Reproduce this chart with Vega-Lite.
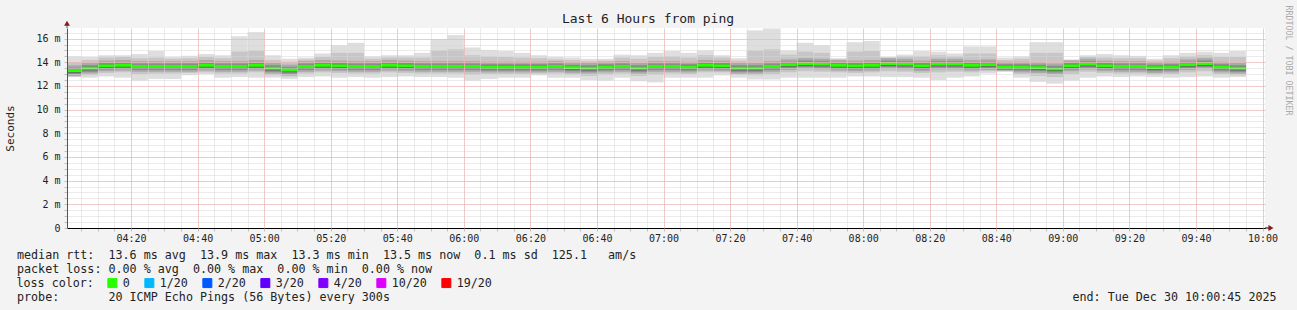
{
  "$schema": "https://vega.github.io/schema/vega-lite/v6.json",
  "width": 1198,
  "height": 200,
  "autosize": {"type": "none"},
  "padding": {"left": 67, "top": 28, "right": 32, "bottom": 82},
  "background": "#f3f3f3",
  "config": {
    "font": "DejaVu Sans Mono",
    "view": {"fill": "white", "stroke": null}
  },
  "title": {
    "text": "Last 6 Hours from ping",
    "font": "DejaVu Sans Mono",
    "fontSize": 13,
    "fontWeight": "normal",
    "color": "#222222",
    "anchor": "middle",
    "frame": "group",
    "dx": -18,
    "offset": -21
  },
  "datasets": {
    "bins": [
      {"t":"2025-12-30T04:00:00","t2":"2025-12-30T04:05:00","mn":12.75,"mx":14.5,"l2":12.8,"h2":14.0,"l3":12.85,"h3":13.75,"l4":13.0,"h4":13.55,"l5":13.12,"h5":13.42,"md":13.3,"loss":"0"},
      {"t":"2025-12-30T04:05:00","t2":"2025-12-30T04:10:00","mn":12.7,"mx":14.45,"l2":12.9,"h2":14.2,"l3":13.05,"h3":13.95,"l4":13.2,"h4":13.75,"l5":13.32,"h5":13.62,"md":13.5,"loss":"0"},
      {"t":"2025-12-30T04:10:00","t2":"2025-12-30T04:15:00","mn":12.8,"mx":14.6,"l2":13.1,"h2":14.4,"l3":13.25,"h3":14.15,"l4":13.4,"h4":13.95,"l5":13.52,"h5":13.82,"md":13.7,"loss":"0"},
      {"t":"2025-12-30T04:15:00","t2":"2025-12-30T04:20:00","mn":12.7,"mx":14.6,"l2":13.15,"h2":14.45,"l3":13.3,"h3":14.2,"l4":13.45,"h4":14.0,"l5":13.57,"h5":13.87,"md":13.75,"loss":"0"},
      {"t":"2025-12-30T04:20:00","t2":"2025-12-30T04:25:00","mn":12.45,"mx":14.7,"l2":13.0,"h2":14.35,"l3":13.2,"h3":14.1,"l4":13.35,"h4":13.9,"l5":13.47,"h5":13.77,"md":13.65,"loss":"0"},
      {"t":"2025-12-30T04:25:00","t2":"2025-12-30T04:30:00","mn":12.6,"mx":14.95,"l2":13.05,"h2":14.4,"l3":13.2,"h3":14.1,"l4":13.35,"h4":13.9,"l5":13.47,"h5":13.77,"md":13.65,"loss":"0"},
      {"t":"2025-12-30T04:30:00","t2":"2025-12-30T04:35:00","mn":12.6,"mx":14.45,"l2":13.05,"h2":14.3,"l3":13.2,"h3":14.1,"l4":13.35,"h4":13.9,"l5":13.47,"h5":13.77,"md":13.65,"loss":"0"},
      {"t":"2025-12-30T04:35:00","t2":"2025-12-30T04:40:00","mn":12.9,"mx":14.55,"l2":13.1,"h2":14.35,"l3":13.2,"h3":14.1,"l4":13.35,"h4":13.9,"l5":13.47,"h5":13.77,"md":13.65,"loss":"0"},
      {"t":"2025-12-30T04:40:00","t2":"2025-12-30T04:45:00","mn":13.0,"mx":14.7,"l2":13.15,"h2":14.45,"l3":13.3,"h3":14.2,"l4":13.45,"h4":14.0,"l5":13.57,"h5":13.87,"md":13.75,"loss":"0"},
      {"t":"2025-12-30T04:45:00","t2":"2025-12-30T04:50:00","mn":12.7,"mx":14.6,"l2":13.05,"h2":14.35,"l3":13.2,"h3":14.1,"l4":13.35,"h4":13.9,"l5":13.47,"h5":13.77,"md":13.65,"loss":"0"},
      {"t":"2025-12-30T04:50:00","t2":"2025-12-30T04:55:00","mn":12.75,"mx":16.2,"l2":13.05,"h2":14.9,"l3":13.2,"h3":14.1,"l4":13.35,"h4":13.9,"l5":13.47,"h5":13.77,"md":13.65,"loss":"0"},
      {"t":"2025-12-30T04:55:00","t2":"2025-12-30T05:00:00","mn":12.7,"mx":16.55,"l2":13.15,"h2":15.0,"l3":13.3,"h3":14.2,"l4":13.45,"h4":14.0,"l5":13.57,"h5":13.87,"md":13.75,"loss":"0"},
      {"t":"2025-12-30T05:00:00","t2":"2025-12-30T05:05:00","mn":12.7,"mx":14.6,"l2":12.9,"h2":14.2,"l3":13.05,"h3":13.95,"l4":13.2,"h4":13.75,"l5":13.32,"h5":13.62,"md":13.5,"loss":"0"},
      {"t":"2025-12-30T05:05:00","t2":"2025-12-30T05:10:00","mn":12.6,"mx":14.3,"l2":12.8,"h2":14.05,"l3":12.9,"h3":13.8,"l4":13.05,"h4":13.6,"l5":13.17,"h5":13.47,"md":13.35,"loss":"0"},
      {"t":"2025-12-30T05:10:00","t2":"2025-12-30T05:15:00","mn":12.75,"mx":14.4,"l2":13.05,"h2":14.25,"l3":13.2,"h3":14.1,"l4":13.35,"h4":13.9,"l5":13.47,"h5":13.77,"md":13.65,"loss":"0"},
      {"t":"2025-12-30T05:15:00","t2":"2025-12-30T05:20:00","mn":12.8,"mx":14.75,"l2":13.15,"h2":14.45,"l3":13.3,"h3":14.2,"l4":13.45,"h4":14.0,"l5":13.57,"h5":13.87,"md":13.75,"loss":"0"},
      {"t":"2025-12-30T05:20:00","t2":"2025-12-30T05:25:00","mn":12.7,"mx":15.45,"l2":13.1,"h2":14.8,"l3":13.25,"h3":14.15,"l4":13.4,"h4":13.95,"l5":13.52,"h5":13.82,"md":13.7,"loss":"0"},
      {"t":"2025-12-30T05:25:00","t2":"2025-12-30T05:30:00","mn":12.75,"mx":15.65,"l2":13.05,"h2":14.8,"l3":13.2,"h3":14.1,"l4":13.35,"h4":13.9,"l5":13.47,"h5":13.77,"md":13.65,"loss":"0"},
      {"t":"2025-12-30T05:30:00","t2":"2025-12-30T05:35:00","mn":12.7,"mx":14.5,"l2":13.05,"h2":14.3,"l3":13.2,"h3":14.1,"l4":13.35,"h4":13.9,"l5":13.47,"h5":13.77,"md":13.65,"loss":"0"},
      {"t":"2025-12-30T05:35:00","t2":"2025-12-30T05:40:00","mn":12.75,"mx":14.6,"l2":13.15,"h2":14.4,"l3":13.3,"h3":14.2,"l4":13.45,"h4":14.0,"l5":13.57,"h5":13.87,"md":13.75,"loss":"0"},
      {"t":"2025-12-30T05:40:00","t2":"2025-12-30T05:45:00","mn":12.8,"mx":14.6,"l2":13.1,"h2":14.4,"l3":13.25,"h3":14.15,"l4":13.4,"h4":13.95,"l5":13.52,"h5":13.82,"md":13.7,"loss":"0"},
      {"t":"2025-12-30T05:45:00","t2":"2025-12-30T05:50:00","mn":12.75,"mx":14.8,"l2":13.05,"h2":14.4,"l3":13.2,"h3":14.1,"l4":13.35,"h4":13.9,"l5":13.47,"h5":13.77,"md":13.65,"loss":"0"},
      {"t":"2025-12-30T05:50:00","t2":"2025-12-30T05:55:00","mn":12.75,"mx":15.95,"l2":13.05,"h2":15.0,"l3":13.2,"h3":14.1,"l4":13.35,"h4":13.9,"l5":13.47,"h5":13.77,"md":13.65,"loss":"0"},
      {"t":"2025-12-30T05:55:00","t2":"2025-12-30T06:00:00","mn":12.7,"mx":16.3,"l2":13.05,"h2":15.1,"l3":13.2,"h3":14.1,"l4":13.35,"h4":13.9,"l5":13.47,"h5":13.77,"md":13.65,"loss":"0"},
      {"t":"2025-12-30T06:00:00","t2":"2025-12-30T06:05:00","mn":12.45,"mx":15.25,"l2":12.95,"h2":14.6,"l3":13.2,"h3":14.1,"l4":13.35,"h4":13.9,"l5":13.47,"h5":13.77,"md":13.65,"loss":"0"},
      {"t":"2025-12-30T06:05:00","t2":"2025-12-30T06:10:00","mn":12.6,"mx":15.05,"l2":13.0,"h2":14.5,"l3":13.15,"h3":14.05,"l4":13.3,"h4":13.85,"l5":13.42,"h5":13.72,"md":13.6,"loss":"0"},
      {"t":"2025-12-30T06:10:00","t2":"2025-12-30T06:15:00","mn":12.7,"mx":14.95,"l2":13.0,"h2":14.45,"l3":13.15,"h3":14.05,"l4":13.3,"h4":13.85,"l5":13.42,"h5":13.72,"md":13.6,"loss":"0"},
      {"t":"2025-12-30T06:15:00","t2":"2025-12-30T06:20:00","mn":12.7,"mx":14.8,"l2":13.0,"h2":14.4,"l3":13.15,"h3":14.05,"l4":13.3,"h4":13.85,"l5":13.42,"h5":13.72,"md":13.6,"loss":"0"},
      {"t":"2025-12-30T06:20:00","t2":"2025-12-30T06:25:00","mn":12.9,"mx":14.6,"l2":13.05,"h2":14.35,"l3":13.15,"h3":14.05,"l4":13.3,"h4":13.85,"l5":13.42,"h5":13.72,"md":13.6,"loss":"0"},
      {"t":"2025-12-30T06:25:00","t2":"2025-12-30T06:30:00","mn":12.7,"mx":14.45,"l2":13.05,"h2":14.25,"l3":13.2,"h3":14.1,"l4":13.35,"h4":13.9,"l5":13.47,"h5":13.77,"md":13.65,"loss":"0"},
      {"t":"2025-12-30T06:30:00","t2":"2025-12-30T06:35:00","mn":12.7,"mx":14.4,"l2":12.95,"h2":14.2,"l3":13.1,"h3":14.0,"l4":13.25,"h4":13.8,"l5":13.37,"h5":13.67,"md":13.55,"loss":"0"},
      {"t":"2025-12-30T06:35:00","t2":"2025-12-30T06:40:00","mn":12.5,"mx":14.3,"l2":12.85,"h2":14.1,"l3":13.05,"h3":13.95,"l4":13.2,"h4":13.75,"l5":13.32,"h5":13.62,"md":13.5,"loss":"0"},
      {"t":"2025-12-30T06:40:00","t2":"2025-12-30T06:45:00","mn":12.45,"mx":14.3,"l2":12.95,"h2":14.15,"l3":13.15,"h3":14.05,"l4":13.3,"h4":13.85,"l5":13.42,"h5":13.72,"md":13.6,"loss":"0"},
      {"t":"2025-12-30T06:45:00","t2":"2025-12-30T06:50:00","mn":12.7,"mx":14.65,"l2":13.05,"h2":14.4,"l3":13.2,"h3":14.1,"l4":13.35,"h4":13.9,"l5":13.47,"h5":13.77,"md":13.65,"loss":"0"},
      {"t":"2025-12-30T06:50:00","t2":"2025-12-30T06:55:00","mn":12.4,"mx":14.6,"l2":12.85,"h2":14.3,"l3":13.05,"h3":13.95,"l4":13.2,"h4":13.75,"l5":13.32,"h5":13.62,"md":13.5,"loss":"0"},
      {"t":"2025-12-30T06:55:00","t2":"2025-12-30T07:00:00","mn":12.3,"mx":14.8,"l2":12.95,"h2":14.45,"l3":13.2,"h3":14.1,"l4":13.35,"h4":13.9,"l5":13.47,"h5":13.77,"md":13.65,"loss":"0"},
      {"t":"2025-12-30T07:00:00","t2":"2025-12-30T07:05:00","mn":12.7,"mx":14.95,"l2":13.05,"h2":14.5,"l3":13.2,"h3":14.1,"l4":13.35,"h4":13.9,"l5":13.47,"h5":13.77,"md":13.65,"loss":"0"},
      {"t":"2025-12-30T07:05:00","t2":"2025-12-30T07:10:00","mn":12.7,"mx":14.8,"l2":13.0,"h2":14.4,"l3":13.15,"h3":14.05,"l4":13.3,"h4":13.85,"l5":13.42,"h5":13.72,"md":13.6,"loss":"0"},
      {"t":"2025-12-30T07:10:00","t2":"2025-12-30T07:15:00","mn":12.7,"mx":15.0,"l2":13.15,"h2":14.6,"l3":13.3,"h3":14.2,"l4":13.45,"h4":14.0,"l5":13.57,"h5":13.87,"md":13.75,"loss":"0"},
      {"t":"2025-12-30T07:15:00","t2":"2025-12-30T07:20:00","mn":12.9,"mx":14.6,"l2":13.15,"h2":14.4,"l3":13.25,"h3":14.15,"l4":13.4,"h4":13.95,"l5":13.52,"h5":13.82,"md":13.7,"loss":"0"},
      {"t":"2025-12-30T07:20:00","t2":"2025-12-30T07:25:00","mn":12.7,"mx":14.35,"l2":12.95,"h2":14.15,"l3":13.05,"h3":13.95,"l4":13.2,"h4":13.75,"l5":13.32,"h5":13.62,"md":13.5,"loss":"0"},
      {"t":"2025-12-30T07:25:00","t2":"2025-12-30T07:30:00","mn":12.55,"mx":16.7,"l2":12.9,"h2":15.0,"l3":13.05,"h3":13.95,"l4":13.2,"h4":13.75,"l5":13.32,"h5":13.62,"md":13.5,"loss":"0"},
      {"t":"2025-12-30T07:30:00","t2":"2025-12-30T07:35:00","mn":12.55,"mx":16.85,"l2":13.0,"h2":15.1,"l3":13.2,"h3":14.1,"l4":13.35,"h4":13.9,"l5":13.47,"h5":13.77,"md":13.65,"loss":"0"},
      {"t":"2025-12-30T07:35:00","t2":"2025-12-30T07:40:00","mn":12.7,"mx":15.0,"l2":13.15,"h2":14.65,"l3":13.35,"h3":14.25,"l4":13.5,"h4":14.05,"l5":13.62,"h5":13.92,"md":13.8,"loss":"0"},
      {"t":"2025-12-30T07:40:00","t2":"2025-12-30T07:45:00","mn":12.7,"mx":15.65,"l2":13.25,"h2":14.9,"l3":13.45,"h3":14.35,"l4":13.6,"h4":14.15,"l5":13.72,"h5":14.02,"md":13.9,"loss":"0"},
      {"t":"2025-12-30T07:45:00","t2":"2025-12-30T07:50:00","mn":12.7,"mx":15.45,"l2":13.2,"h2":14.8,"l3":13.4,"h3":14.3,"l4":13.55,"h4":14.1,"l5":13.67,"h5":13.97,"md":13.85,"loss":"0"},
      {"t":"2025-12-30T07:50:00","t2":"2025-12-30T07:55:00","mn":12.7,"mx":14.35,"l2":13.15,"h2":14.25,"l3":13.3,"h3":14.2,"l4":13.45,"h4":14.0,"l5":13.57,"h5":13.87,"md":13.75,"loss":"0"},
      {"t":"2025-12-30T07:55:00","t2":"2025-12-30T08:00:00","mn":12.8,"mx":15.7,"l2":13.1,"h2":14.9,"l3":13.25,"h3":14.15,"l4":13.4,"h4":13.95,"l5":13.52,"h5":13.82,"md":13.7,"loss":"0"},
      {"t":"2025-12-30T08:00:00","t2":"2025-12-30T08:05:00","mn":12.8,"mx":15.8,"l2":13.15,"h2":14.95,"l3":13.3,"h3":14.2,"l4":13.45,"h4":14.0,"l5":13.57,"h5":13.87,"md":13.75,"loss":"0"},
      {"t":"2025-12-30T08:05:00","t2":"2025-12-30T08:10:00","mn":12.75,"mx":14.45,"l2":13.25,"h2":14.4,"l3":13.45,"h3":14.35,"l4":13.6,"h4":14.15,"l5":13.72,"h5":14.02,"md":13.9,"loss":"0"},
      {"t":"2025-12-30T08:10:00","t2":"2025-12-30T08:15:00","mn":12.75,"mx":14.65,"l2":13.2,"h2":14.5,"l3":13.4,"h3":14.3,"l4":13.55,"h4":14.1,"l5":13.67,"h5":13.97,"md":13.85,"loss":"0"},
      {"t":"2025-12-30T08:15:00","t2":"2025-12-30T08:20:00","mn":12.7,"mx":14.95,"l2":13.1,"h2":14.5,"l3":13.25,"h3":14.15,"l4":13.4,"h4":13.95,"l5":13.52,"h5":13.82,"md":13.7,"loss":"0"},
      {"t":"2025-12-30T08:20:00","t2":"2025-12-30T08:25:00","mn":12.5,"mx":14.9,"l2":13.15,"h2":14.6,"l3":13.4,"h3":14.3,"l4":13.55,"h4":14.1,"l5":13.67,"h5":13.97,"md":13.85,"loss":"0"},
      {"t":"2025-12-30T08:25:00","t2":"2025-12-30T08:30:00","mn":12.7,"mx":14.75,"l2":13.2,"h2":14.5,"l3":13.4,"h3":14.3,"l4":13.55,"h4":14.1,"l5":13.67,"h5":13.97,"md":13.85,"loss":"0"},
      {"t":"2025-12-30T08:30:00","t2":"2025-12-30T08:35:00","mn":12.8,"mx":15.35,"l2":13.15,"h2":14.75,"l3":13.3,"h3":14.2,"l4":13.45,"h4":14.0,"l5":13.57,"h5":13.87,"md":13.75,"loss":"0"},
      {"t":"2025-12-30T08:35:00","t2":"2025-12-30T08:40:00","mn":13.05,"mx":15.35,"l2":13.25,"h2":14.75,"l3":13.35,"h3":14.25,"l4":13.5,"h4":14.05,"l5":13.62,"h5":13.92,"md":13.8,"loss":"0"},
      {"t":"2025-12-30T08:40:00","t2":"2025-12-30T08:45:00","mn":13.2,"mx":14.4,"l2":13.25,"h2":14.2,"l3":13.3,"h3":14.05,"l4":13.35,"h4":13.85,"l5":13.42,"h5":13.72,"md":13.6,"loss":"0"},
      {"t":"2025-12-30T08:45:00","t2":"2025-12-30T08:50:00","mn":12.7,"mx":14.5,"l2":13.0,"h2":14.3,"l3":13.15,"h3":14.05,"l4":13.3,"h4":13.85,"l5":13.42,"h5":13.72,"md":13.6,"loss":"0"},
      {"t":"2025-12-30T08:50:00","t2":"2025-12-30T08:55:00","mn":12.35,"mx":15.7,"l2":12.85,"h2":14.8,"l3":13.1,"h3":14.0,"l4":13.25,"h4":13.8,"l5":13.37,"h5":13.67,"md":13.55,"loss":"0"},
      {"t":"2025-12-30T08:55:00","t2":"2025-12-30T09:00:00","mn":12.2,"mx":15.7,"l2":12.75,"h2":14.8,"l3":13.0,"h3":13.9,"l4":13.15,"h4":13.7,"l5":13.27,"h5":13.57,"md":13.45,"loss":"0"},
      {"t":"2025-12-30T09:00:00","t2":"2025-12-30T09:05:00","mn":12.45,"mx":14.25,"l2":13.0,"h2":14.2,"l3":13.25,"h3":14.15,"l4":13.4,"h4":13.95,"l5":13.52,"h5":13.82,"md":13.7,"loss":"0"},
      {"t":"2025-12-30T09:05:00","t2":"2025-12-30T09:10:00","mn":12.7,"mx":14.6,"l2":13.2,"h2":14.45,"l3":13.4,"h3":14.3,"l4":13.55,"h4":14.1,"l5":13.67,"h5":13.97,"md":13.85,"loss":"0"},
      {"t":"2025-12-30T09:10:00","t2":"2025-12-30T09:15:00","mn":12.8,"mx":14.7,"l2":13.1,"h2":14.4,"l3":13.25,"h3":14.15,"l4":13.4,"h4":13.95,"l5":13.52,"h5":13.82,"md":13.7,"loss":"0"},
      {"t":"2025-12-30T09:15:00","t2":"2025-12-30T09:20:00","mn":12.75,"mx":14.6,"l2":13.05,"h2":14.35,"l3":13.2,"h3":14.1,"l4":13.35,"h4":13.9,"l5":13.47,"h5":13.77,"md":13.65,"loss":"0"},
      {"t":"2025-12-30T09:20:00","t2":"2025-12-30T09:25:00","mn":12.8,"mx":14.55,"l2":13.05,"h2":14.35,"l3":13.2,"h3":14.1,"l4":13.35,"h4":13.9,"l5":13.47,"h5":13.77,"md":13.65,"loss":"0"},
      {"t":"2025-12-30T09:25:00","t2":"2025-12-30T09:30:00","mn":12.75,"mx":14.3,"l2":12.95,"h2":14.15,"l3":13.1,"h3":14.0,"l4":13.25,"h4":13.8,"l5":13.37,"h5":13.67,"md":13.55,"loss":"0"},
      {"t":"2025-12-30T09:30:00","t2":"2025-12-30T09:35:00","mn":12.7,"mx":14.6,"l2":13.0,"h2":14.35,"l3":13.15,"h3":14.05,"l4":13.3,"h4":13.85,"l5":13.42,"h5":13.72,"md":13.6,"loss":"0"},
      {"t":"2025-12-30T09:35:00","t2":"2025-12-30T09:40:00","mn":12.75,"mx":14.8,"l2":13.15,"h2":14.5,"l3":13.35,"h3":14.25,"l4":13.5,"h4":14.05,"l5":13.62,"h5":13.92,"md":13.8,"loss":"0"},
      {"t":"2025-12-30T09:40:00","t2":"2025-12-30T09:45:00","mn":12.8,"mx":14.9,"l2":13.25,"h2":14.6,"l3":13.45,"h3":14.35,"l4":13.6,"h4":14.15,"l5":13.72,"h5":14.02,"md":13.9,"loss":"0"},
      {"t":"2025-12-30T09:45:00","t2":"2025-12-30T09:50:00","mn":12.7,"mx":14.8,"l2":13.0,"h2":14.45,"l3":13.15,"h3":14.05,"l4":13.3,"h4":13.85,"l5":13.42,"h5":13.72,"md":13.6,"loss":"0"},
      {"t":"2025-12-30T09:50:00","t2":"2025-12-30T09:55:00","mn":12.75,"mx":14.95,"l2":12.9,"h2":14.45,"l3":13.05,"h3":13.95,"l4":13.2,"h4":13.75,"l5":13.32,"h5":13.62,"md":13.5,"loss":"0"}
    ]
  },
  "data": {"name": "bins"},
  "encoding": {
    "x": {
      "field": "t",
      "type": "temporal",
      "scale": {"domain": [
        {"year": 2025, "month": 12, "date": 30, "hours": 4, "minutes": 0, "seconds": 45},
        {"year": 2025, "month": 12, "date": 30, "hours": 10, "minutes": 0, "seconds": 45}
      ]},
      "axis": null
    },
    "x2": {"field": "t2"}
  },
  "layer": [
    {
      "mark": {"type": "rect", "color": "#dedede", "clip": true},
      "encoding": {
        "x": {
          "field": "t",
          "type": "temporal",
          "scale": {"domain": [
            {"year": 2025, "month": 12, "date": 30, "hours": 4, "minutes": 0, "seconds": 45},
            {"year": 2025, "month": 12, "date": 30, "hours": 10, "minutes": 0, "seconds": 45}
          ]},
          "axis": {
            "tickCount": 72,
            "labelExpr": "minutes(datum.value) % 20 === 0 ? timeFormat(datum.value, '%H:%M') : ''",
            "labelOverlap": false,
            "labelFlush": false,
            "labelFont": "DejaVu Sans Mono",
            "labelFontSize": 10,
            "labelColor": "#222222",
            "labelPadding": 2,
            "tickSize": 3,
            "tickColor": "#c0c0c0",
            "grid": true,
            "gridColor": "#d6d6d6",
            "gridDash": [1, 1],
            "gridOpacity": 1,
            "domainColor": "#000000",
            "domainWidth": 1,
            "zindex": 1,
            "title": [
              "median rtt: \u00a013.6 ms avg \u00a013.9 ms max \u00a013.3 ms min \u00a013.5 ms now \u00a00.1 ms sd \u00a0125.1 \u00a0\u00a0am/s",
              "packet loss: 0.00 % avg \u00a00.00 % max \u00a00.00 % min \u00a00.00 % now"
            ],
            "titleFont": "DejaVu Sans Mono",
            "titleFontSize": 11.7,
            "titleFontWeight": "normal",
            "titleColor": "#222222",
            "titleAnchor": "start",
            "titleAlign": "left",
            "titleBaseline": "alphabetic",
            "titleX": -50.5,
            "titleY": 30,
            "titleLineHeight": 14
          }
        },
        "y": {
          "field": "mn",
          "type": "quantitative",
          "scale": {"domain": [0, 16.9], "nice": false, "zero": true},
          "axis": {
            "title": "Seconds",
            "titleFont": "DejaVu Sans Mono",
            "titleFontSize": 11,
            "titleFontWeight": "normal",
            "titleColor": "#222222",
            "titleAngle": -90,
            "titleX": -57,
            "titleY": 100,
            "titleAlign": "center",
            "titleBaseline": "middle",
            "tickCount": 34,
            "labelExpr": "datum.value % 2 === 0 ? (datum.value === 0 ? '0' : datum.value + ' m') : ''",
            "labelOverlap": false,
            "labelFont": "DejaVu Sans Mono",
            "labelFontSize": 10,
            "labelColor": "#222222",
            "labelPadding": 4,
            "tickSize": 3,
            "tickColor": "#c0c0c0",
            "grid": true,
            "gridColor": "#d6d6d6",
            "gridDash": [1, 1],
            "gridOpacity": 1,
            "domainColor": "#555555",
            "domainWidth": 1,
            "zindex": 1
          }
        },
        "y2": {"field": "mx"}
      }
    },
    {
      "mark": {"type": "rect", "color": "#c6c6c6", "clip": true},
      "encoding": {"y": {"field": "l2", "type": "quantitative", "axis": null}, "y2": {"field": "h2"}}
    },
    {
      "mark": {"type": "rect", "color": "#a9a9a9", "clip": true},
      "encoding": {"y": {"field": "l3", "type": "quantitative", "axis": null}, "y2": {"field": "h3"}}
    },
    {
      "mark": {"type": "rect", "color": "#8a8a8a", "clip": true},
      "encoding": {"y": {"field": "l4", "type": "quantitative", "axis": null}, "y2": {"field": "h4"}}
    },
    {
      "mark": {"type": "rect", "color": "#5c5c5c", "clip": true},
      "encoding": {"y": {"field": "l5", "type": "quantitative", "axis": null}, "y2": {"field": "h5"}}
    },
    {
      "mark": {"type": "rule", "strokeWidth": 3, "clip": true},
      "encoding": {
        "x": {
          "field": "t",
          "type": "temporal",
          "axis": {
            "orient": "top",
            "values": [
              {"year": 2025, "month": 12, "date": 30, "hours": 4, "minutes": 20},
              {"year": 2025, "month": 12, "date": 30, "hours": 4, "minutes": 40},
              {"year": 2025, "month": 12, "date": 30, "hours": 5, "minutes": 0},
              {"year": 2025, "month": 12, "date": 30, "hours": 5, "minutes": 20},
              {"year": 2025, "month": 12, "date": 30, "hours": 5, "minutes": 40},
              {"year": 2025, "month": 12, "date": 30, "hours": 6, "minutes": 0},
              {"year": 2025, "month": 12, "date": 30, "hours": 6, "minutes": 20},
              {"year": 2025, "month": 12, "date": 30, "hours": 6, "minutes": 40},
              {"year": 2025, "month": 12, "date": 30, "hours": 7, "minutes": 0},
              {"year": 2025, "month": 12, "date": 30, "hours": 7, "minutes": 20},
              {"year": 2025, "month": 12, "date": 30, "hours": 7, "minutes": 40},
              {"year": 2025, "month": 12, "date": 30, "hours": 8, "minutes": 0},
              {"year": 2025, "month": 12, "date": 30, "hours": 8, "minutes": 20},
              {"year": 2025, "month": 12, "date": 30, "hours": 8, "minutes": 40},
              {"year": 2025, "month": 12, "date": 30, "hours": 9, "minutes": 0},
              {"year": 2025, "month": 12, "date": 30, "hours": 9, "minutes": 20},
              {"year": 2025, "month": 12, "date": 30, "hours": 9, "minutes": 40},
              {"year": 2025, "month": 12, "date": 30, "hours": 10, "minutes": 0}
            ],
            "labels": false,
            "ticks": false,
            "domain": false,
            "grid": true,
            "gridColor": "#f4a6a6",
            "gridDash": [1, 1],
            "gridOpacity": 1,
            "zindex": 2,
            "title": "probe: \u00a0\u00a0\u00a0\u00a0\u00a0\u00a020 ICMP Echo Pings (56 Bytes) every 300s\u00a0 \u00a0 \u00a0 \u00a0 \u00a0 \u00a0 \u00a0 \u00a0 \u00a0 \u00a0 \u00a0 \u00a0 \u00a0 \u00a0 \u00a0 \u00a0 \u00a0 \u00a0 \u00a0 \u00a0 \u00a0 \u00a0 \u00a0 \u00a0 \u00a0 \u00a0 \u00a0 \u00a0 \u00a0 \u00a0 \u00a0 \u00a0 \u00a0 \u00a0 \u00a0 \u00a0 \u00a0 \u00a0 \u00a0 \u00a0 \u00a0 \u00a0 \u00a0 \u00a0 \u00a0 \u00a0 \u00a0 \u00a0 \u00a0end: Tue Dec 30 10:00:45 2025",
            "titleFont": "DejaVu Sans Mono",
            "titleFontSize": 11.7,
            "titleFontWeight": "normal",
            "titleColor": "#222222",
            "titleAlign": "left",
            "titleAnchor": "start",
            "titleBaseline": "alphabetic",
            "titleX": -50.5,
            "titleY": 272
          }
        },
        "y": {
          "field": "md",
          "type": "quantitative",
          "axis": {
            "orient": "right",
            "values": [2, 4, 6, 8, 10, 12, 14, 16],
            "labels": false,
            "ticks": false,
            "domain": false,
            "grid": true,
            "gridColor": "#f4a6a6",
            "gridDash": [1, 1],
            "gridOpacity": 1,
            "zindex": 2,
            "title": "RRDTOOL / TOBI OETIKER",
            "titleFont": "DejaVu Sans Mono",
            "titleFontSize": 8.3,
            "titleFontWeight": "normal",
            "titleColor": "#aaaaaa",
            "titleAngle": 90,
            "titleX": 22,
            "titleY": -23,
            "titleAlign": "left",
            "titleBaseline": "middle"
          }
        },
        "color": {
          "field": "loss",
          "type": "nominal",
          "scale": {
            "domain": ["0", "1/20", "2/20", "3/20", "4/20", "10/20", "19/20"],
            "range": ["#26ff00", "#00b8ff", "#0059ff", "#5e00ff", "#7e00ff", "#dd00ff", "#ff0000"]
          },
          "legend": {
            "orient": "none",
            "legendX": -50.5,
            "legendY": 249,
            "direction": "horizontal",
            "title": "loss color:",
            "titleOrient": "left",
            "titleFont": "DejaVu Sans Mono",
            "titleFontSize": 11.7,
            "titleFontWeight": "normal",
            "titleColor": "#222222",
            "titlePadding": 12,
            "symbolType": "square",
            "symbolSize": 81,
            "symbolStrokeColor": "#000000",
            "symbolStrokeWidth": 1,
            "labelFont": "DejaVu Sans Mono",
            "labelFontSize": 11.7,
            "labelColor": "#222222",
            "labelOffset": 4.5,
            "columnPadding": 12,
            "padding": 0,
            "encode": {
              "symbols": {
                "update": {
                  "fill": {"scale": "color", "field": "value"},
                  "stroke": {"value": "#000000"},
                  "strokeWidth": {"value": 1}
                }
              }
            }
          }
        }
      }
    },
    {
      "data": {"values": [{"t": "2025-12-30T04:00:45", "t2": "2025-12-30T04:00:45", "v": 16.9, "v2": 17.2}]},
      "mark": {"type": "rule", "color": "#555555", "strokeWidth": 1},
      "encoding": {"y": {"field": "v", "type": "quantitative", "axis": null}, "y2": {"field": "v2"}}
    },
    {
      "data": {"values": [{"t": "2025-12-30T04:00:45", "t2": "2025-12-30T04:00:45", "v": 17.3}]},
      "mark": {"type": "point", "shape": "triangle-up", "size": 35, "filled": true, "color": "#8b1a1a", "opacity": 1},
      "encoding": {"y": {"field": "v", "type": "quantitative", "axis": null}}
    },
    {
      "data": {"values": [{"t": "2025-12-30T10:00:45", "t2": "2025-12-30T10:02:00", "v": 0}]},
      "mark": {"type": "rule", "color": "#000000", "strokeWidth": 1},
      "encoding": {"y": {"field": "v", "type": "quantitative", "axis": null}}
    },
    {
      "data": {"values": [{"t": "2025-12-30T10:02:33", "t2": "2025-12-30T10:02:33", "v": 0}]},
      "mark": {"type": "point", "shape": "triangle-right", "size": 35, "filled": true, "color": "#8b1a1a", "opacity": 1},
      "encoding": {"y": {"field": "v", "type": "quantitative", "axis": null}}
    }
  ],
  "resolve": {"axis": {"x": "independent", "y": "independent"}}
}
